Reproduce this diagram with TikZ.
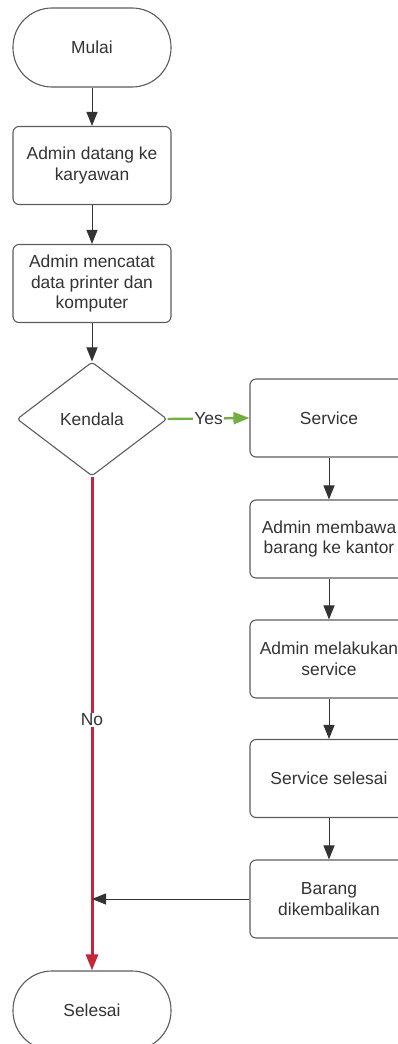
\documentclass[tikz,border=0pt]{standalone}
\usepackage{fontspec}
\setmainfont{Liberation Sans}
\usetikzlibrary{shapes.geometric,arrows.meta}
\definecolor{ink}{HTML}{333333}
\definecolor{edgegrey}{HTML}{5C5C5C}
\definecolor{noRed}{HTML}{C4263A}
\definecolor{yesGreen}{HTML}{72B043}

\begin{document}
\begin{tikzpicture}[x=1pt,y=-1pt,
  every node/.style={font=\fontsize{17.4}{20.5}\selectfont, text=ink},
  proc/.style={draw=edgegrey, line width=1.1pt, rounded corners=6pt,
    minimum width=158pt, minimum height=78pt, align=center, inner sep=2pt},
  term/.style={proc, rounded corners=39pt, minimum height=79pt},
  decide/.style={draw=edgegrey, line width=1.1pt, diamond, aspect=1.32,
    minimum width=150pt, minimum height=114pt, inner sep=0pt, rounded corners=3pt},
  flow/.style={draw=ink, line width=1pt, -{Triangle[length=14pt,width=11pt]}},
  yesflow/.style={draw=yesGreen, line width=2.4pt, -{Triangle[length=16pt,width=12pt]}},
  noflow/.style={draw=noRed, line width=3pt, -{Triangle[length=16pt,width=12pt]}},
  lbl/.style={fill=white, inner sep=1pt}
]
\useasboundingbox (0,0) rectangle (398,1044);
\clip (0,0) rectangle (398,1044);

% left column
\node[term] (start) at (92,47.5) {Mulai};
\node[proc] (visit) at (92,165.5) {Admin datang ke\\karyawan};
\node[proc] (record) at (92,283.5) {Admin mencatat\\data printer dan\\komputer};
\node[decide] (issue) at (92,419) {Kendala};
\node[term] (finish) at (92,1010.5) {Selesai};

% right column
\node[proc] (service) at (329,418) {Service};
\node[proc] (carry) at (329,539) {Admin membawa\\barang ke kantor};
\node[proc] (repair) at (329,659) {Admin melakukan\\service};
\node[proc] (done) at (329,778.5) {Service selesai};
\node[proc] (back) at (329,899) {Barang\\dikembalikan};

% connectors
\draw[flow] (start) -- (visit);
\draw[flow] (visit) -- (record);
\draw[flow] (record) -- (issue);
\draw[yesflow] (issue.east) -- node[lbl] {Yes} (service.west);
\draw[flow] (service) -- (carry);
\draw[flow] (carry) -- (repair);
\draw[flow] (repair) -- (done);
\draw[flow] (done) -- (back);
\draw[noflow] (issue.south) -- node[lbl, pos=0.493] {No} (finish.north);
\coordinate (merge) at (issue.south |- back.west);
\draw[flow] (back.west) -- (merge);
\end{tikzpicture}
\end{document}
